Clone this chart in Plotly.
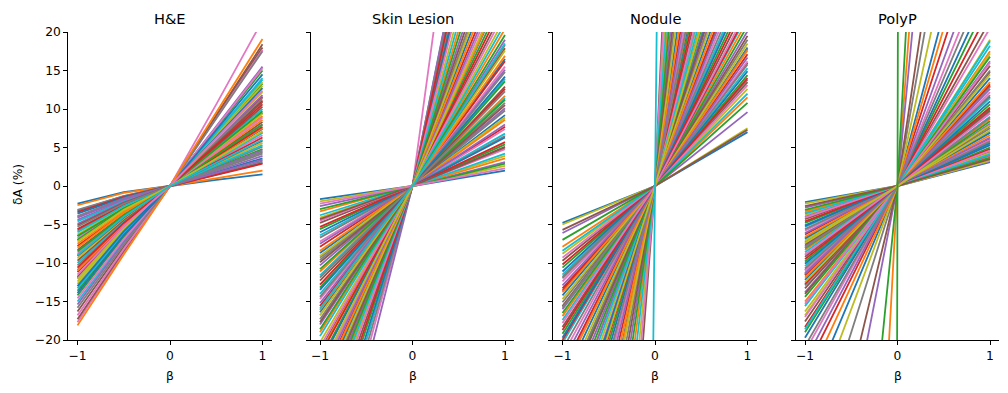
import plotly.graph_objects as go

# beta sample points
beta_he = [-1, -0.5, 0, 0.5, 1]
beta = [-1, 0, 1]

# H&E: dA (%) at beta = -1, -0.5, 0.5, 1 (all curves pass through 0 at beta = 0)
he_m1 = [-2.3, -10.0, -5.3, -14.6, -4.1, -7.8, -18.1, -6.5, -12.4, -3.1,
         -8.8, -16.3, -4.9, -11.2, -7.0, -4.0, -3.6, -13.3, -9.4, -5.8,
         -16.8, -8.3, -4.4, -11.8, -6.5, -2.5, -13.9, -7.2, -10.3, -5.1,
         -15.4, -8.5, -11.0, -6.0, -12.7, -3.9, -17.7, -9.1, -10.9, -5.6,
         -14.2, -7.5, -3.2, -4.6, -12.1, -15.8, -6.8, -9.7, -12.0, -3.4,
         -13.6, -8.0, -9.0, -6.3, -11.5, -17.3, -10.6, -7.0, -13.0, -15.0]
he_m05 = [-0.8, -4.6, -2.3, -6.9, -1.7, -3.4, -8.9, -2.8, -5.6, -1.3,
          -3.9, -7.9, -2.1, -5.0, -3.0, -1.8, -1.5, -6.1, -4.2, -2.5,
          -8.2, -3.7, -1.9, -5.3, -2.9, -0.9, -6.4, -3.1, -4.7, -2.2,
          -7.3, -3.8, -4.9, -2.6, -5.8, -1.6, -8.6, -4.1, -4.9, -2.4,
          -6.6, -3.3, -1.3, -2.0, -5.5, -7.6, -2.9, -4.4, -5.4, -1.4,
          -6.2, -3.5, -4.0, -2.7, -5.2, -8.4, -4.8, -3.1, -5.9, -7.1]
he_p05 = [0.8, 5.0, 2.2, 7.6, 1.7, 3.9, 9.5, 3.7, 6.1, 1.6,
          4.4, 9.0, 1.9, 5.5, 4.0, 3.5, 1.8, 7.0, 4.7, 2.5,
          10.6, 4.1, 2.3, 5.8, 4.7, 1.0, 7.2, 3.5, 5.7, 3.0,
          7.8, 4.8, 3.8, 3.4, 6.7, 2.1, 8.9, 5.1, 5.9, 3.2,
          7.5, 4.3, 1.5, 2.7, 6.5, 8.8, 3.3, 5.5, 4.0, 1.5,
          6.6, 4.6, 3.0, 2.8, 6.2, 9.2, 5.3, 2.4, 6.4, 6.9]
he_p1 = [1.5, 10.0, 4.4, 15.3, 3.4, 7.7, 19.1, 7.4, 12.2, 3.2,
         8.9, 18.0, 3.9, 11.1, 8.0, 7.0, 3.6, 14.0, 9.4, 5.1,
         21.5, 8.3, 4.6, 11.6, 9.5, 2.0, 14.5, 7.1, 11.4, 5.9,
         15.5, 9.7, 7.5, 6.9, 13.5, 4.2, 17.7, 10.3, 11.8, 6.3,
         15.0, 8.6, 3.0, 5.3, 13.0, 17.5, 6.6, 10.9, 8.0, 2.9,
         13.3, 9.1, 6.0, 5.6, 12.4, 18.4, 10.6, 4.8, 12.7, 13.8]

# Skin Lesion: dA (%) at beta = -1 and beta = 1
skin_left = [-1.7, -2.0, -2.3, -2.6, -3.0, -3.3, -3.8, -4.1, -4.5, -4.8,
             -5.3, -5.6, -6.0, -6.4, -6.7, -7.2, -7.5, -7.9, -8.4, -8.7,
             -9.1, -9.6, -9.9, -10.3, -10.8, -11.1, -11.6, -11.9, -12.3, -12.8,
             -13.2, -13.5, -14.0, -14.4, -14.7, -15.2, -15.6, -16.1, -16.4, -16.8,
             -17.3, -17.7, -18.0, -18.6, -19.0, -19.5, -20.3, -20.9, -21.4, -22.0,
             -22.7, -23.1, -23.8, -24.3, -24.9, -25.6, -26.0, -26.8, -27.3, -28.0,
             -28.6, -29.4, -30.1, -30.8, -31.5, -32.4, -33.3, -34.5, -35.8, -37.0,
             -38.7, -40.2, -42.0, -44.1, -47.5, -26.5, -21.7, -15.9, -9.3, -4.3]
skin_right = [2.0, 2.6, 2.3, 3.1, 2.9, 3.6, 4.2, 3.9, 4.8, 5.1,
              5.7, 5.4, 6.3, 6.8, 6.5, 7.4, 8.0, 7.7, 8.6, 9.2,
              8.9, 9.8, 10.5, 10.1, 11.2, 11.7, 11.4, 12.3, 12.9, 12.6,
              13.6, 14.2, 13.9, 14.8, 15.5, 15.1, 16.2, 16.9, 16.5, 17.6,
              18.3, 17.9, 19.0, 19.6, 20.4, 21.1, 21.8, 22.6, 23.3, 24.1,
              24.9, 25.8, 26.6, 27.5, 28.4, 29.4, 30.5, 31.6, 32.8, 34.1,
              35.5, 37.0, 38.8, 40.6, 42.7, 45.0, 47.8, 51.0, 55.0, 59.5,
              49.5, 53.0, 57.0, 88.0, 60.0, 33.0, 26.0, 18.5, 10.8, 5.0]

# Nodule
nodule_left = [-4.8, -5.0, -5.7, -6.1, -7.0, -7.9, -8.4, -8.8, -9.3, -9.7,
               -10.2, -10.6, -11.1, -11.5, -12.0, -12.4, -12.9, -13.3, -13.8, -14.2,
               -14.7, -15.1, -15.6, -16.0, -16.5, -16.9, -17.4, -17.8, -18.3, -18.7,
               -19.2, -19.7, -20.4, -21.2, -22.0, -22.9, -23.8, -24.6, -25.5, -26.5,
               -27.4, -28.5, -29.6, -30.7, -31.9, -33.2, -34.5, -35.9, -37.4, -39.0,
               -40.7, -42.5, -44.5, -46.7, -49.0, -51.6, -54.4, -57.5, -61.0, -65.0,
               -70.0, -76.0, -83.0, -92.0, -103.0, -118.0, -135.0, -155.0, -20.0, -28.0,
               -36.5, -45.5, -15.8, -24.2, -32.0, -13.6, -58.5, -38.2, -11.8]
nodule_right = [7.0, 7.5, 7.3, 9.6, 10.8, 11.5, 12.0, 12.6, 13.1, 13.5,
                14.0, 14.4, 14.9, 15.3, 15.8, 16.2, 16.7, 17.1, 17.6, 18.0,
                18.5, 19.0, 19.5, 20.1, 20.8, 21.5, 22.2, 23.0, 23.8, 24.6,
                25.4, 26.3, 27.2, 28.1, 29.1, 30.1, 31.2, 32.3, 33.5, 34.8,
                36.1, 37.5, 39.0, 40.6, 42.3, 44.1, 46.0, 48.0, 50.2, 52.6,
                55.2, 58.0, 61.0, 64.5, 68.5, 73.0, 78.0, 84.0, 91.0, 99.0,
                108.0, 120.0, 135.0, 150.0, 170.0, 195.0, 230.0, 260.0, 22.5, 30.5,
                38.0, 47.0, 17.8, 26.8, 35.5, 16.0, 60.0, 41.5, 13.8]
nodule_spike = [-1100.0, 0, 1100.0]

# PolyP
polyp_left = [-2.1, -2.3, -2.6, -2.8, -3.1, -3.3, -3.6, -3.8, -4.1, -4.3,
              -4.6, -4.8, -5.1, -5.3, -5.6, -5.8, -6.1, -6.3, -6.6, -6.8,
              -7.1, -7.3, -7.6, -7.8, -8.1, -8.3, -8.6, -8.9, -9.2, -9.5,
              -9.8, -10.1, -10.4, -10.7, -11.0, -11.3, -11.6, -11.9, -12.2, -12.5,
              -12.9, -13.3, -13.8, -14.4, -15.0, -15.6, -16.3, -17.0, -17.6, -18.3,
              -19.0, -19.7, -20.8, -21.5, -22.7, -24.0, -26.0, -28.5, -32.0, -38.0,
              -50.0, -61.0, -121.0, -220.0, -18.6, -16.8, -15.3, -14.0, -12.7, -11.5,
              -5.2, -6.9, -8.0, -9.0, -4.0, -10.9, -3.5, -7.4, -11.4]
polyp_right = [3.1, 3.3, 3.5, 3.2, 3.7, 3.9, 4.1, 4.3, 4.6, 4.4,
               4.8, 5.0, 5.3, 5.5, 5.8, 6.0, 6.3, 6.1, 6.6, 6.9,
               7.2, 7.5, 7.8, 8.1, 8.4, 8.7, 9.0, 9.4, 9.8, 10.2,
               10.6, 11.0, 11.4, 11.8, 12.2, 12.6, 13.0, 13.5, 14.0, 14.5,
               15.0, 15.6, 16.2, 16.8, 17.5, 18.2, 19.0, 20.5, 21.5, 23.0,
               24.5, 26.0, 28.0, 30.0, 33.0, 37.0, 41.0, 45.0, 55.0, 68.0,
               80.0, 125.0, 220.0, 160.0, 18.8, 17.2, 16.0, 14.8, 13.2, 10.0,
               5.6, 7.0, 8.9, 9.6, 4.0, 11.6, 3.6, 7.9, 12.9]
polyp_spike = [-5000.0, 0, 5000.0]

titles = ["H&E", "Skin Lesion", "Nodule", "PolyP"]
xticks = [-1, 0, 1]
yticks = [-20, -15, -10, -5, 0, 5, 10, 15, 20]

tab10 = ["#1f77b4", "#ff7f0e", "#2ca02c", "#d62728", "#9467bd",
         "#8c564b", "#e377c2", "#7f7f7f", "#bcbd22", "#17becf"]
FONT = "DejaVu Sans"
TICK = 12.3


def lbl(v):
    return str(v).replace("-", "\u2212")


panels = [
    (beta_he, [[a, b, 0, c, d] for a, b, c, d in zip(he_m1, he_m05, he_p05, he_p1)]),
    (beta, [[a, 0, b] for a, b in zip(skin_left, skin_right)]),
    (beta, [[a, 0, b] for a, b in zip(nodule_left, nodule_right)]),
    (beta, [[a, 0, b] for a, b in zip(polyp_left, polyp_right)]),
]
spikes = {2: (nodule_spike, tab10[9]), 3: (polyp_spike, tab10[2])}

# the page body has an 8px margin, so work in window pixels minus 8
OFF = 8
W, H = 992, 377


def px(x):
    return (x - OFF) / W


def py(y):
    return 1 - (y - OFF) / H


centers = [170, 412.5, 655, 897.5]
half = 101.75
ydom = [py(340), py(32)]

fig = go.Figure()
layout = dict(width=W, height=H, margin=dict(l=0, r=0, t=0, b=0),
              paper_bgcolor="white", plot_bgcolor="white",
              font=dict(family=FONT, color="black", size=TICK),
              showlegend=False, annotations=[])

for p, (bx, curves) in enumerate(panels):
    ax = "" if p == 0 else str(p + 1)
    n = len(curves)
    # mix the drawing order so neighbouring curves get unrelated colours
    order = sorted(range(n), key=lambda i: (i * 61) % 127)
    for k, i in enumerate(order):
        fig.add_trace(go.Scatter(x=bx, y=curves[i], mode="lines",
                                 line=dict(color=tab10[k % 10], width=1.8),
                                 xaxis="x" + ax, yaxis="y" + ax,
                                 hoverinfo="skip", showlegend=False))
    if p in spikes:
        ys, col = spikes[p]
        fig.add_trace(go.Scatter(x=beta, y=ys, mode="lines",
                                 line=dict(color=col, width=1.8),
                                 xaxis="x" + ax, yaxis="y" + ax,
                                 hoverinfo="skip", showlegend=False))

    c = centers[p]
    layout["xaxis" + ax] = dict(
        domain=[px(c - half), px(c + half)], range=[-1.1, 1.1],
        anchor="y" + ax, tickvals=xticks, ticktext=[lbl(v) for v in xticks],
        ticks="outside", ticklen=4, tickwidth=1, tickcolor="black",
        showline=True, linecolor="black", linewidth=1,
        showgrid=False, zeroline=False, automargin=False,
        tickfont=dict(family=FONT, size=TICK, color="black"))
    layout["yaxis" + ax] = dict(
        domain=ydom, range=[-20, 20], anchor="x" + ax,
        tickvals=yticks, ticktext=[lbl(v) for v in yticks],
        showticklabels=(p == 0),
        ticks="outside", ticklen=4, tickwidth=1, tickcolor="black",
        showline=True, linecolor="black", linewidth=1,
        showgrid=False, zeroline=False, automargin=False,
        tickfont=dict(family=FONT, size=TICK, color="black"))

    layout["annotations"].append(dict(
        text=titles[p], x=px(c), y=py(18), xref="paper", yref="paper",
        xanchor="center", yanchor="middle", showarrow=False,
        font=dict(family=FONT, size=14.6, color="black")))
    layout["annotations"].append(dict(
        text="\u03b2", x=px(c), y=py(376), xref="paper", yref="paper",
        xanchor="center", yanchor="middle", showarrow=False,
        font=dict(family=FONT, size=TICK, color="black")))

layout["annotations"].append(dict(
    text="\u03b4A (%)", x=px(18), y=py(185), xref="paper", yref="paper",
    xanchor="center", yanchor="middle", textangle=-90, showarrow=False,
    font=dict(family=FONT, size=TICK, color="black")))

fig.update_layout(**layout)
fig.write_html("out.html")
